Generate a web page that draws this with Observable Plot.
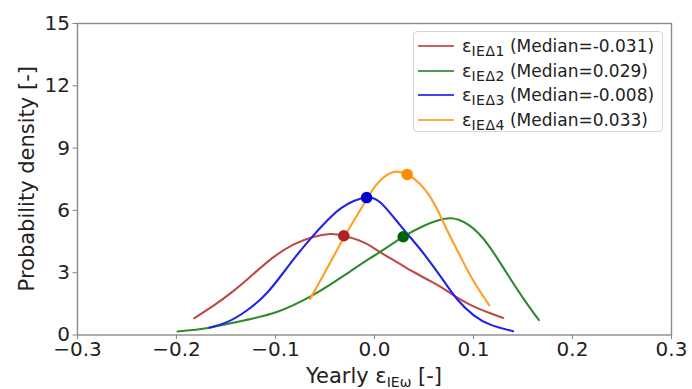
<!DOCTYPE html>
<html><head><meta charset="utf-8">
<script src="https://cdn.jsdelivr.net/npm/d3@7"></script>
<script src="https://cdn.jsdelivr.net/npm/@observablehq/plot@0.6"></script>
<style>
body{margin:0;background:#fff;font-family:"DejaVu Sans",sans-serif;}
#wrap{position:relative;width:692px;height:389px;}
#legend{position:absolute;left:413px;top:31px;width:250px;height:101px;border:1px solid #d6d6d6;border-radius:4px;background:rgba(255,255,255,0.85);box-sizing:border-box;color:#222;}
.row{position:absolute;left:4px;height:24px;display:flex;align-items:center;white-space:nowrap;}
.sw{width:36px;height:0;border-top:2px solid;margin-right:8px;}
.eps{font-size:17.5px;}
.sub{font-size:14px;position:relative;top:5px;letter-spacing:0.5px;}
.med{font-size:17px;margin-left:5px;}
svg [aria-label="x-axis tick"], svg [aria-label="y-axis tick"]{stroke:#888;}
</style></head>
<body><div id="wrap"></div>
<script>
const seriesNames = ["IEΔ1", "IEΔ2", "IEΔ3", "IEΔ4"];
const medianValues = [-0.031, 0.029, -0.008, 0.033];
const medianLabels = ["-0.031", "0.029", "-0.008", "0.033"];
const medianDensity = [4.78, 4.73, 6.62, 7.73];
const lineColors = ["#c04848", "#2f8a2f", "#2323e8", "#ffa024"];
const dotColors = ["#b22222", "#006400", "#0000cd", "#ff8c00"];

const x1 = [-0.182,-0.163,-0.143,-0.122,-0.102,-0.082,-0.062,-0.045,-0.031,-0.011,0.006,0.023,0.040,0.057,0.068,0.085,0.100,0.117,0.130];
const y1 = [0.81,1.40,2.10,2.95,3.75,4.35,4.72,4.86,4.78,4.46,3.98,3.50,3.02,2.58,2.28,1.76,1.38,1.05,0.82];
const x2 = [-0.199,-0.167,-0.132,-0.098,-0.065,-0.044,-0.024,-0.004,0.006,0.029,0.050,0.063,0.075,0.085,0.095,0.105,0.117,0.134,0.151,0.166];
const y2 = [0.17,0.35,0.70,1.12,1.85,2.45,3.08,3.71,4.01,4.73,5.26,5.50,5.62,5.55,5.30,4.90,4.20,2.95,1.72,0.72];
const x3 = [-0.167,-0.149,-0.129,-0.108,-0.088,-0.068,-0.048,-0.034,-0.021,-0.008,0.006,0.026,0.046,0.067,0.0835,0.100,0.117,0.140];
const y3 = [0.35,0.62,1.18,2.06,3.26,4.45,5.50,6.10,6.45,6.62,6.38,5.28,4.14,2.80,1.72,0.96,0.50,0.18];
const x4 = [-0.065,-0.048,-0.031,-0.014,-0.004,0.006,0.0195,0.033,0.046,0.060,0.073,0.087,0.100,0.116];
const y4 = [1.74,3.20,4.68,6.05,6.85,7.45,7.85,7.73,7.27,6.35,5.08,3.76,2.60,1.43];

const xTicks = [-0.3,-0.2,-0.1,0.0,0.1,0.2,0.3];
const yTicks = [0,3,6,9,12,15];

const xsAll = [x1,x2,x3,x4], ysAll = [y1,y2,y3,y4];
const curves = [];
xsAll.forEach((xs,i)=>xs.forEach((x,j)=>curves.push({s:i, x, y: ysAll[i][j]})));
const medians = medianValues.map((m,i)=>({s:i, x:m, y:medianDensity[i]}));

const W = 692, H = 389, ML = 77, MR = 21, MT = 23, MB = 54.5;
const plot = Plot.plot({
  width: W, height: H,
  marginLeft: ML, marginRight: MR, marginTop: MT, marginBottom: MB,
  style: {fontFamily: "DejaVu Sans", fontSize: "20px", color: "#222", background: "#fff", overflow: "visible"},
  x: {domain: [-0.3, 0.3]},
  y: {domain: [0, 15]},
  marks: [
    Plot.frame({stroke: "#8c8c8c", strokeWidth: 1.4}),
    Plot.axisX({ticks: xTicks, tickFormat: d3.format(".1f"), tickSize: 4.5, tickPadding: 2, label: null}),
    Plot.axisY({ticks: yTicks, tickSize: 4.5, tickPadding: 3, label: null}),
    ...[0,1,2,3].map(i => Plot.line(curves.filter(d=>d.s===i), {x:"x", y:"y", stroke: lineColors[i], strokeWidth: 2.1, curve: "natural"})),
    Plot.dot(medians, {x:"x", y:"y", r: 5.8, fill: d=>dotColors[d.s], stroke: "none"})
  ]
});
const wrap = document.getElementById("wrap");
wrap.appendChild(plot);

const svg = d3.select(plot);
const cx = (ML + (W - MR)) / 2;
const xl = svg.append("text").attr("x", cx).attr("y", 383).attr("text-anchor", "middle")
  .attr("font-size", 21).attr("fill", "#222");
xl.append("tspan").text("Yearly ε");
xl.append("tspan").attr("font-size", 14).attr("dy", 4).text("IEω");
xl.append("tspan").attr("dy", -4).text(" [-]");
svg.append("text").attr("transform", `translate(34,${(MT + H - MB) / 2}) rotate(-90)`)
  .attr("text-anchor", "middle").attr("font-size", 21).attr("fill", "#222")
  .text("Probability density [-]");

const leg = document.createElement("div");
leg.id = "legend";
seriesNames.forEach((n,i)=>{
  const r = document.createElement("div");
  r.className = "row";
  r.style.top = (2 + i*24.5) + "px";
  r.innerHTML = `<span class="sw" style="border-color:${lineColors[i]};opacity:0.85"></span><span class="eps">ε</span><span class="sub">${n}</span><span class="med">(Median=${medianLabels[i]})</span>`;
  leg.appendChild(r);
});
wrap.appendChild(leg);
</script></body></html>
